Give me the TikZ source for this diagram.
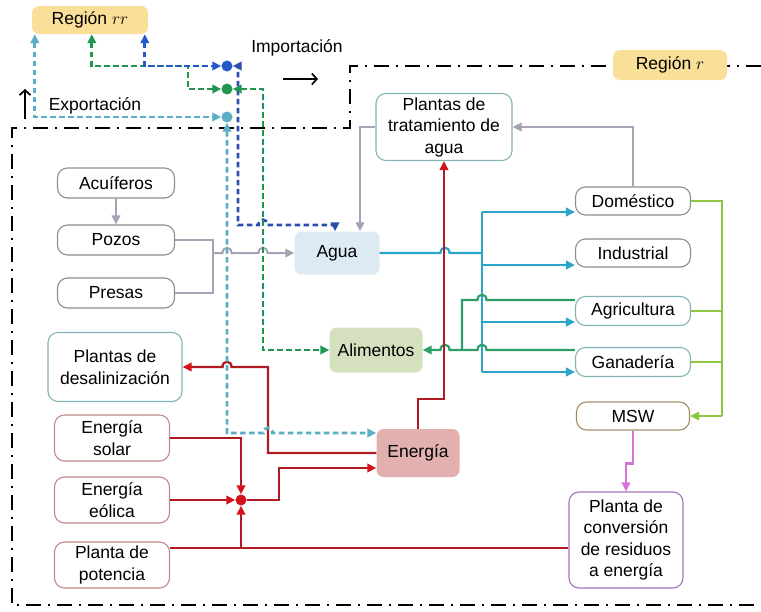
\documentclass[tikz,border=0pt]{standalone}
\usepackage{fontspec}
\setmainfont{Liberation Sans}
\usetikzlibrary{arrows.meta}

\definecolor{gline}{HTML}{A7A3B7}
\definecolor{cyanl}{HTML}{2BA5CA}
\definecolor{dgreen}{HTML}{2E9E68}
\definecolor{lgreen}{HTML}{8DC640}
\definecolor{redl}{HTML}{B01A22}
\definecolor{redtip}{HTML}{D4141C}
\definecolor{magl}{HTML}{D673D6}
\definecolor{bdash}{HTML}{2459CC}
\definecolor{bdashb}{HTML}{2A4FAE}
\definecolor{gdash}{HTML}{219650}
\definecolor{tdash}{HTML}{5AAEC6}
\definecolor{regfill}{HTML}{FADF98}
\definecolor{aguafill}{HTML}{DCEBF3}
\definecolor{alimfill}{HTML}{D5E1BE}
\definecolor{enerfill}{HTML}{E2B1AF}
\definecolor{bgrey}{HTML}{8E8E8E}
\definecolor{bteal}{HTML}{86B3B5}
\definecolor{bred}{HTML}{C48A8A}
\definecolor{bbrown}{HTML}{A38E6A}
\definecolor{bpurp}{HTML}{A474B4}

\begin{document}
\begin{tikzpicture}[x=1pt,y=-1pt,
  >={Triangle[length=9pt,width=8.5pt]},
  every node/.style={font=\fontsize{17.5}{21.5}\selectfont},
  nbox/.style={draw=#1, rounded corners=10pt, line width=1.1pt, fill=white, align=center, inner sep=1pt},
  sbox/.style={fill=#1, rounded corners=7pt, align=center, inner sep=1pt},
  hubdot/.style={circle, fill=#1, inner sep=0pt, minimum size=11pt},
  greyc/.style={draw=gline, line width=2pt},
  cyanc/.style={draw=cyanl, line width=2.2pt},
  dgc/.style={draw=dgreen, line width=2.2pt},
  lgc/.style={draw=lgreen, line width=1.9pt},
  redc/.style={draw=redl, line width=2.3pt, >={Triangle[length=9pt,width=8.5pt,color=redtip]}},
  magc/.style={draw=magl, line width=2.2pt},
  dashc/.style={draw=#1, line width=2.8pt, dash pattern=on 5.5pt off 3.5pt},
  regionline/.style={line width=1.6pt, dash pattern=on 15pt off 7pt on 2pt off 7pt},
  hopright/.style 2 args={insert path={-- (#1-4.5,#2) .. controls (#1-4.5,#2-7) and (#1+4.5,#2-7) .. (#1+4.5,#2)}},
  hopleft/.style 2 args={insert path={-- (#1+4.5,#2) .. controls (#1+4.5,#2-7) and (#1-4.5,#2-7) .. (#1-4.5,#2)}},
]
\useasboundingbox (0,0) rectangle (761,611);

% boundary of region r
\draw[regionline] (761,66) -- (350,66) -- (350,128) -- (12,128) -- (12,605) -- (761,605);

% region labels
\node[sbox=regfill, minimum width=116pt, minimum height=28pt] (rr) at (90,20) {Región $rr$};
\node[sbox=regfill, minimum width=114pt, minimum height=30pt] (rreg) at (670,65) {Región $r$};

% trade labels
\node (imp) at (297,48) {Importación};
\node (exp) at (95,106) {Exportación};
\coordinate (impA) at (283,79);
\coordinate (impB) at (318,79);
\coordinate (expA) at (25,119);
\coordinate (expB) at (25,89);
\draw[line width=1.7pt, -{Straight Barb[length=5pt,width=11pt]}] (impA) -- (impB);
\draw[line width=1.7pt, -{Straight Barb[length=5pt,width=11pt]}] (expA) -- (expB);

% water sources
\node[nbox=bgrey, minimum width=117pt, minimum height=30pt] (acu) at (116,183) {Acuíferos};
\node[nbox=bgrey, minimum width=117pt, minimum height=30pt] (pozos) at (116,240) {Pozos};
\node[nbox=bgrey, minimum width=117pt, minimum height=30pt] (presas) at (116,293) {Presas};

% central sectors
\node[sbox=aguafill, minimum width=85pt, minimum height=43pt] (agua) at (337,253) {Agua};
\node[sbox=alimfill, minimum width=93pt, minimum height=45pt] (alim) at (376,350) {Alimentos};
\node[sbox=enerfill, minimum width=83pt, minimum height=48pt] (energia) at (418,453) {Energía};
\node[nbox=bteal, minimum width=136pt, minimum height=67pt] (ptrat) at (444,127) {Plantas de\\tratamiento de\\agua};

% left plants
\node[nbox=bteal, minimum width=134pt, minimum height=69pt] (desal) at (115,367) {Plantas de\\desalinización};
\node[nbox=bred, minimum width=115pt, minimum height=46pt] (solar) at (112,438) {Energía\\solar};
\node[nbox=bred, minimum width=115pt, minimum height=46pt] (eolica) at (112,500) {Energía\\eólica};
\node[nbox=bred, minimum width=115pt, minimum height=46pt] (potencia) at (112,565) {Planta de\\potencia};

% demand sectors
\node[nbox=bgrey, minimum width=115pt, minimum height=28pt] (dom) at (633,201) {Doméstico};
\node[nbox=bgrey, minimum width=115pt, minimum height=28pt] (ind) at (633,253) {Industrial};
\node[nbox=bteal, minimum width=115pt, minimum height=29pt] (agri) at (633,311) {Agricultura};
\node[nbox=bteal, minimum width=115pt, minimum height=29pt] (gan) at (633,362) {Ganadería};
\node[nbox=bbrown, minimum width=113pt, minimum height=28pt] (msw) at (633,416) {MSW};
\node[nbox=bpurp, minimum width=114pt, minimum height=96pt] (pconv) at (626,540) {Planta de\\conversión\\de residuos\\a energía};

% hub dots
\node[hubdot=bdash] (hb) at (227,66) {};
\node[hubdot=gdash] (hg) at (227,89) {};
\node[hubdot=tdash] (ht) at (227,117) {};
\node[hubdot=redtip] (jr) at (241,500) {};

% grey water links
\coordinate (gj) at (213,253);
\draw[greyc,->] (acu) -- (pozos);
\draw[greyc] (pozos.east) -| (gj) |- (presas.east);
\draw[greyc,->] (gj) [hopright={227}{253}] [hopright={263}{253}] -- (agua.west);
\draw[greyc,->] (ptrat.west) -| ([xshift=23pt]agua.north);
\draw[greyc,->] (dom.north) |- (ptrat.east);

% water distribution
\coordinate (cj) at (482,253);
\coordinate (c1) at (482,212);
\coordinate (c2) at (482,265);
\coordinate (c3) at (482,322);
\coordinate (c4) at (482,372);
\draw[cyanc] (agua.east) [hopright={445}{253}] -- (cj);
\draw[cyanc] (c1) -- (c4);
\draw[cyanc,->] (c1) -- (c1 -| dom.west);
\draw[cyanc,->] (c2) -- (c2 -| ind.west);
\draw[cyanc,->] (c3) -- (c3 -| agri.west);
\draw[cyanc,->] (c4) -- (c4 -| gan.west);

% food links
\coordinate (g1) at (462,300);
\coordinate (g2) at (462,350);
\draw[dgc] (agri.west |- g1) [hopleft={482}{300}] -- (g1) -- (g2);
\draw[dgc,->] (gan.west |- g2) [hopleft={482}{350}] [hopleft={445}{350}] -- (alim.east);

% waste links
\coordinate (lg) at (722,416);
\draw[lgc] (dom.east) -| (lg);
\draw[lgc] (agri.east) -- (agri.east -| lg);
\draw[lgc] (gan.east) -- (gan.east -| lg);
\draw[lgc,->] (lg) -- (msw.east);
\draw[magc,->] (msw.south) -- ++(0,33) -| (pconv.north);

% energy links
\coordinate (rd) at (268,367);
\coordinate (rp) at (241,548);
\draw[redc,->] (energia.north) -- ++(0,-30) -| (ptrat.south);
\draw[redc,->] (energia.west) -| (rd) [hopleft={227}{367}] -- (desal.east);
\draw[redc,->] (solar.east) -| (jr.north);
\draw[redc,->] (eolica.east) -- (jr.west);
\draw[redc] ([yshift=17pt]potencia.east) -- (rp);
\draw[redc,->] ([yshift=-8pt]pconv.west) -| (jr.south);
\draw[redc,->] (jr.east) -- ++(32,0) |- ([yshift=-15pt]energia.west);

% trade flows
\coordinate (gk) at (188,66);
\coordinate (bk1) at (238,66);
\coordinate (bk2) at (238,225);
\coordinate (bk3) at (335,225);
\coordinate (gv) at (263,89);
\coordinate (tk) at (227,433);
\draw[dashc=tdash,<->] ([xshift=3pt]rr.south west) |- (ht.west);
\draw[dashc=gdash,<->] ([xshift=60pt]rr.south west) |- (gk) |- (hg.west);
\draw[dashc=bdash,<->] ([xshift=113pt]rr.south west) |- (hb.west);
\draw[dashc=bdashb,<->] (hb.east) -- (bk1) -- (bk2) [hopright={263}{225}] -- (bk3) -- ([xshift=-2pt]agua.north);
\draw[dashc=gdash,<->] (hg.east) -- (gv) |- (alim.west);
\draw[dashc=tdash,<->] (ht.south) -- (tk) [hopright={268}{433}] -- ([yshift=20pt]energia.west);
\end{tikzpicture}
\end{document}
